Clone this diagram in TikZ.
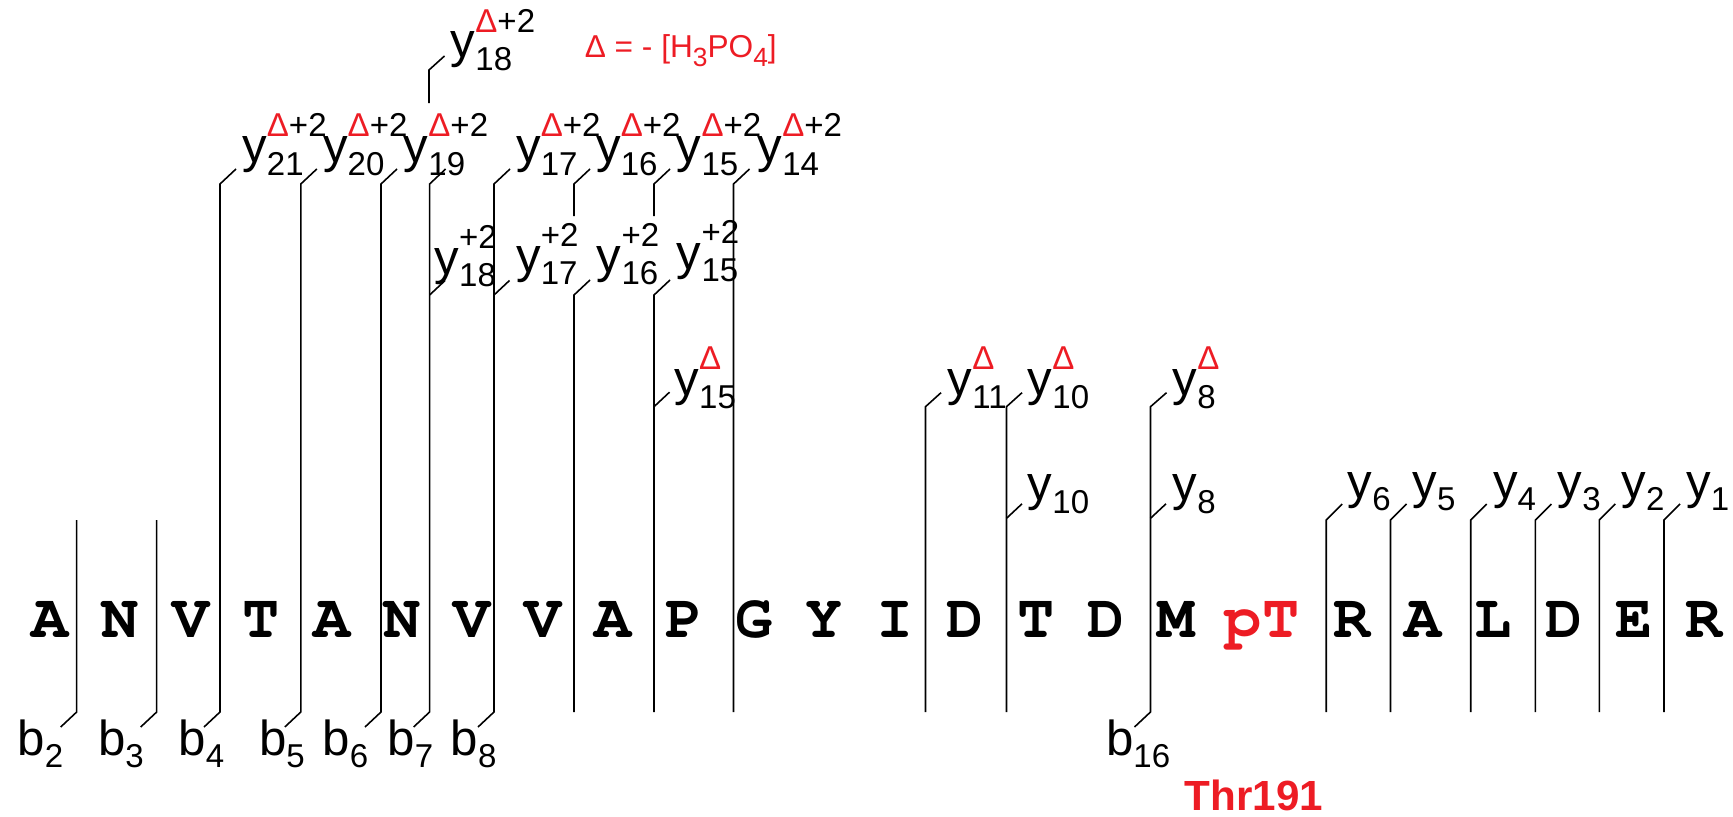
\documentclass[tikz,border=0pt]{standalone}
\usepackage[T1]{fontenc}
\usepackage{fontspec}
\setmainfont{Liberation Sans}
\usetikzlibrary{positioning}
\definecolor{PhosRed}{RGB}{237, 28, 36}

% Courier bold for the sequence
\newcommand{\seqfont}{\fontencoding{T1}\fontfamily{pcr}\fontseries{b}\selectfont}
% fragment label: letter, subscript, superscript
\newcommand{\ionlab}[3]{#1\hbox{\fontsize{9.4}{10}\selectfont%
    \setbox0=\hbox{\raise-3.6pt\hbox{#2}}%
    \setbox2=\hbox{\raise7.3pt\hbox{#3}}%
    \ifdim\wd0>\wd2 \rlap{\box2}\box0 \else\rlap{\box0}\box2 \fi}}
\newcommand{\dtwo}{\textcolor{PhosRed}{Δ}+2}
\newcommand{\dlt}{\textcolor{PhosRed}{Δ}}

\begin{document}
\begin{tikzpicture}[x=0.1mm, y=-0.1mm, line width=0.45pt,
    res/.style={font=\fontsize{17.6}{20}\seqfont, anchor=base, inner sep=0pt},
    ion/.style={font=\fontsize{14}{16}\selectfont, anchor=base west, inner sep=0pt}]
  \useasboundingbox (0,0) rectangle (1733,816);

  % Peptide sequence
  \foreach \aa [count=\i from 0] in {A,N,V,T,A,N,V,V,A,P,G,Y,I,D,T,D,M}
    \node[res] (n\i) at (50+70.4*\i, 637) {\aa};
  \node[res, text=PhosRed] (pT) at (1262, 637) {pT};
  \foreach \aa [count=\i from 0] in {R,A,L,D,E,R}
    \node[res] (c\i) at (1352.5+70.4*\i, 637) {\aa};
  \node[font=\bfseries\fontsize{12}{14}\selectfont, text=PhosRed, anchor=base, inner sep=0pt] (thr) at (1254, 810) {Thr191};

  % b ions
  \foreach \x in {76.7, 156.7}
    \draw (\x-16, 727) -- (\x, 712) -- (\x, 520);
  \foreach \x in {220, 300.8, 381, 429.6, 494}
    \draw (\x-16, 727) -- (\x, 712) -- (\x, 184) -- ++(16,-15);
  \draw (1134.5, 727) -- (1150.5, 712) -- (1150.5, 406.7) -- ++(16,-14);

  % y ions
  \draw (574, 712) -- (574, 295) -- ++(16,-15);
  \draw (654, 712) -- (654, 295) -- ++(16,-15);
  \foreach \x in {574, 654}
    \draw (\x, 216) -- (\x, 184) -- ++(16,-15);
  \draw (733.5, 712) -- (733.5, 184) -- ++(16,-15);
  \foreach \x in {925.5, 1006.5}
    \draw (\x, 712) -- (\x, 406.7) -- ++(15.5,-14);
  \foreach \x/\y in {429.6/295, 494/295, 654/406.7, 1006.5/518.3, 1150.5/518.3}
    \draw (\x, \y) -- ++(15.5,-14.5);
  \draw (429, 103) -- (429, 70) -- ++(15.5,-14);
  \foreach \x in {1326.2, 1390.5, 1470.7, 1535.4, 1599.3, 1664}
    \draw (\x, 712) -- (\x, 520) -- ++(16,-16);

  % Labels
  \node[ion] (y18d) at (450, 58) {\ionlab{y}{18}{\dtwo}};
  \node[ion] (y21d) at (241.5, 162.5) {\ionlab{y}{21}{\dtwo}};
  \node[ion] (y20d) at (322.3, 162.5) {\ionlab{y}{20}{\dtwo}};
  \node[ion] (y19d) at (403, 162.5) {\ionlab{y}{19}{\dtwo}};
  \node[ion] (y17d) at (515.4, 162.5) {\ionlab{y}{17}{\dtwo}};
  \node[ion] (y16d) at (595.4, 162.5) {\ionlab{y}{16}{\dtwo}};
  \node[ion] (y15d) at (676.1, 162.5) {\ionlab{y}{15}{\dtwo}};
  \node[ion] (y14d) at (756.9, 162.5) {\ionlab{y}{14}{\dtwo}};

  \node[ion] (y18) at (433.8, 274) {\ionlab{y}{18}{+2}};
  \node[ion] (y17) at (515.4, 272.3) {\ionlab{y}{17}{+2}};
  \node[ion] (y16) at (596.2, 272.3) {\ionlab{y}{16}{+2}};
  \node[ion] (y15) at (676.1, 269) {\ionlab{y}{15}{+2}};

  \node[ion] (y15p) at (673.8, 395.6) {\ionlab{y}{15}{\dlt}};
  \node[ion] (y11p) at (947, 395.6) {\ionlab{y}{11}{\dlt}};
  \node[ion] (y10p) at (1027, 395.6) {\ionlab{y}{10}{\dlt}};
  \node[ion] (y8p) at (1172, 395.6) {\ionlab{y}{8}{\dlt}};

  \node[ion] (y10) at (1027, 500.6) {\ionlab{y}{10}{}};
  \node[ion] (y8) at (1172, 500.6) {\ionlab{y}{8}{}};
  \foreach \x/\n in {1347/6, 1411.6/5, 1492.3/4, 1557/3, 1620.8/2, 1685.5/1}
    \node[ion] (y\n) at (\x, 498) {\ionlab{y}{\n}{}};

  \foreach \x/\n in {16.7/2, 97.3/3, 177.7/4, 258.3/5, 321.7/6, 386.7/7, 450/8, 1105.3/16}
    \node[ion] (b\n) at (\x, 755) {\ionlab{b}{\n}{}};

  \node[font=\fontsize{9}{11}\selectfont, text=PhosRed, anchor=base west, inner sep=0pt] (delta) at (584, 57)
    {Δ = - [H\raisebox{-2.8pt}{\fontsize{7.5}{8}\selectfont 3}PO\raisebox{-2.8pt}{\fontsize{7.5}{8}\selectfont 4}]};
\end{tikzpicture}
\end{document}
